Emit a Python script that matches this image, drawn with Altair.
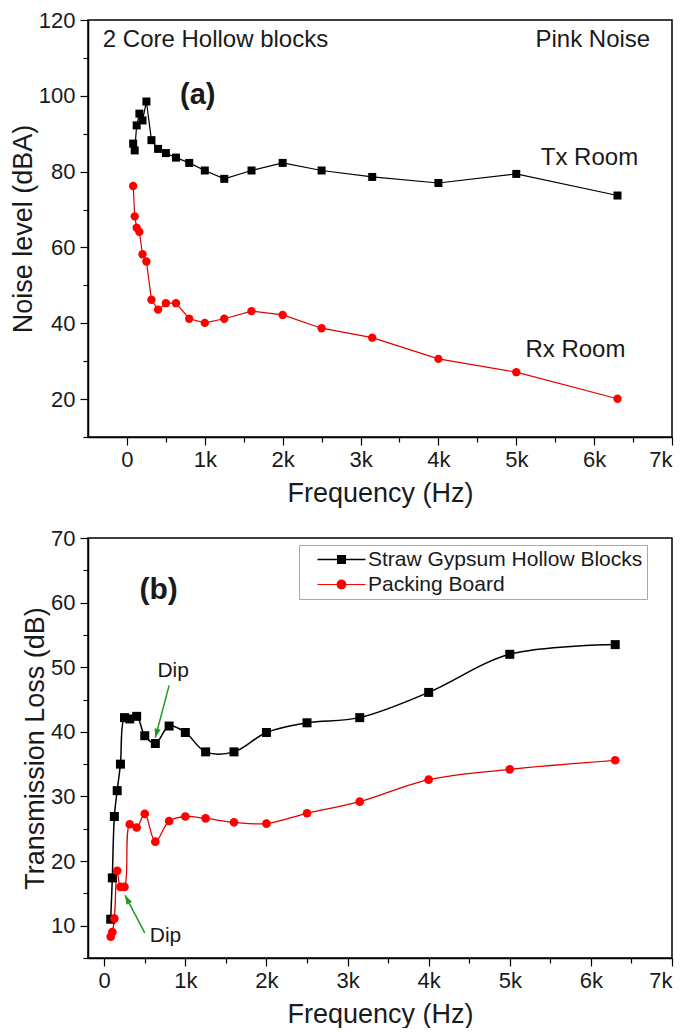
import math
import altair as alt
import pandas as pd

# ---------------- data ----------------
freq = [80, 100, 125, 160, 200, 250, 315, 400, 500, 630, 800, 1000,
        1250, 1600, 2000, 2500, 3150, 4000, 5000, 6300]
tx_room = [87.4, 85.6, 92.2, 95.3, 93.5, 98.5, 88.3, 86.0, 84.9, 83.7, 82.3, 80.3,
           78.1, 80.3, 82.3, 80.3, 78.6, 77.0, 79.4, 73.7]
rx_room = [76.2, 68.2, 65.2, 64.1, 58.2, 56.3, 46.2, 43.6, 45.3, 45.3, 41.2, 40.1,
           41.2, 43.2, 42.2, 38.7, 36.2, 30.6, 27.1, 20.1]
tl_straw = [11.0, 17.4, 26.9, 30.9, 35.0, 42.2, 42.0, 42.4, 39.4, 38.2, 40.9, 39.9,
            36.9, 36.9, 39.9, 41.4, 42.2, 46.1, 52.0, 53.5]
tl_packing = [8.3, 9.0, 11.1, 18.5, 16.0, 16.0, 25.7, 25.2, 27.3, 23.0, 26.2, 26.9,
              26.6, 26.0, 25.8, 27.4, 29.2, 32.6, 34.2, 35.6]

rooms = ["Tx Room", "Rx Room"]
materials = ["Straw Gypsum Hollow Blocks", "Packing Board"]

x_major = [0, 1000, 2000, 3000, 4000, 5000, 6000, 7000]
x_minor = [500, 1500, 2500, 3500, 4500, 5500, 6500]
ya_major = [20, 40, 60, 80, 100, 120]
ya_minor = [10, 30, 50, 70, 90, 110]
yb_major = [10, 20, 30, 40, 50, 60, 70]
yb_minor = [5, 15, 25, 35, 45, 55, 65]

# annotation texts (panel a)
a_left_text = ["2 Core Hollow blocks"]
a_left_x = [-310]
a_left_y = [114.8]
a_right_text = ["Pink Noise"]
a_right_x = [6720]
a_right_y = [114.8]
a_center_text = ["Tx Room", "Rx Room"]
a_center_x = [5940, 5760]
a_center_y = [83.7, 32.9]
a_bold_text = ["(a)"]
a_bold_x = [910]
a_bold_y = [100.2]

# annotation texts (panel b)
b_bold_text = ["(b)"]
b_bold_x = [670]
b_bold_y = [61.9]
b_dip_text = ["Dip", "Dip"]
b_dip_x = [850, 755]
b_dip_y = [49.4, 8.4]
arrow_x0 = [800, 500]
arrow_y0 = [47.2, 8.9]
arrow_x1 = [630, 257]
arrow_y1 = [39.1, 14.7]

# ---------------- layout / style ----------------
FONT = "Liberation Sans"
W_A, H_A = 584, 417
W_B, H_B = 584, 420
XA = [-500, 7000]
YA = [10, 120]
XB = [-200, 7000]
YB = [5, 70]
RED_PT = "#ff0000"
RED_LN = "#e00000"
GREEN = "#1f9a1f"

K_LABEL = "datum.value == 0 ? '0' : format(datum.value / 1000, 'd') + 'k'"

xa_scale = alt.Scale(domain=XA, nice=False, zero=False)
ya_scale = alt.Scale(domain=YA, nice=False, zero=False)
xb_scale = alt.Scale(domain=XB, nice=False, zero=False)
yb_scale = alt.Scale(domain=YB, nice=False, zero=False)


def major_x_axis():
    return alt.Axis(values=x_major, labelExpr=K_LABEL, title="Frequency (Hz)",
                    orient="bottom", tickSize=8, labelPadding=4, titlePadding=10)


def major_y_axis(vals, title):
    return alt.Axis(values=vals, title=title, orient="left", tickSize=8,
                    labelPadding=5, titlePadding=1)


def minor_x_axis():
    return alt.Axis(values=x_minor, labels=False, title=None, orient="bottom",
                    tickSize=5, domain=False)


def minor_y_axis(vals):
    return alt.Axis(values=vals, labels=False, title=None, orient="left",
                    tickSize=5, domain=False)


# ---------------- panel (a) ----------------
dfa = pd.DataFrame({
    "freq": freq + freq,
    "level": tx_room + rx_room,
    "room": [rooms[0]] * len(freq) + [rooms[1]] * len(freq),
})
ax_a = major_x_axis()
ay_a = major_y_axis(ya_major, "Noise level (dBA)")


def enc_a(ch, xf="freq:Q", yf="level:Q"):
    return ch.encode(x=alt.X(xf, scale=xa_scale, axis=ax_a),
                     y=alt.Y(yf, scale=ya_scale, axis=ay_a))


tx = alt.Chart(dfa).transform_filter(alt.datum.room == rooms[0])
rx = alt.Chart(dfa).transform_filter(alt.datum.room == rooms[1])
a_layers = [
    enc_a(tx.mark_line(color="black", strokeWidth=1.2)),
    enc_a(rx.mark_line(color=RED_LN, strokeWidth=1.2)),
    enc_a(tx.mark_square(color="black", size=64, opacity=1)),
    enc_a(rx.mark_circle(color=RED_PT, size=70, opacity=1)),
]


def text_layer(enc, xs, ys, texts, **kw):
    df = pd.DataFrame({"x": xs, "y": ys, "label": texts})
    return enc(alt.Chart(df).mark_text(font=FONT, color="#1a1a1a", baseline="middle", **kw)
               .encode(text="label:N"), "x:Q", "y:Q")


a_layers += [
    text_layer(enc_a, a_left_x, a_left_y, a_left_text, align="left", fontSize=24),
    text_layer(enc_a, a_right_x, a_right_y, a_right_text, align="right", fontSize=24),
    text_layer(enc_a, a_center_x, a_center_y, a_center_text, align="center", fontSize=24),
    text_layer(enc_a, a_bold_x, a_bold_y, a_bold_text, align="center", fontSize=29,
               fontWeight="bold"),
]
inner_a = alt.layer(*a_layers)
minor_a = alt.Chart(dfa).mark_point(opacity=0).encode(
    x=alt.X("freq:Q", scale=xa_scale, axis=minor_x_axis()),
    y=alt.Y("level:Q", scale=ya_scale, axis=minor_y_axis(ya_minor)))
chart_a = alt.layer(inner_a, minor_a).resolve_axis(
    x="independent", y="independent").properties(width=W_A, height=H_A)

# ---------------- panel (b) ----------------
dfb = pd.DataFrame({
    "freq": freq + freq,
    "tl": tl_straw + tl_packing,
    "series": [materials[0]] * len(freq) + [materials[1]] * len(freq),
})
ax_b = major_x_axis()
ay_b = major_y_axis(yb_major, "Transmission Loss (dB)")


def enc_b(ch, xf="freq:Q", yf="tl:Q"):
    return ch.encode(x=alt.X(xf, scale=xb_scale, axis=ax_b),
                     y=alt.Y(yf, scale=yb_scale, axis=ay_b))


sb = alt.Chart(dfb).transform_filter(alt.datum.series == materials[0])
pb = alt.Chart(dfb).transform_filter(alt.datum.series == materials[1])
b_layers = [
    enc_b(sb.mark_line(color="black", strokeWidth=1.5, interpolate="catmull-rom")),
    enc_b(pb.mark_line(color=RED_LN, strokeWidth=1.3, interpolate="catmull-rom")),
    enc_b(sb.mark_square(color="black", size=81, opacity=1)),
    enc_b(pb.mark_circle(color=RED_PT, size=75, opacity=1)),
]


# arrows (shaft + arrowhead) -- angle from the scale geometry
def px_b(f, v):
    return ((f - XB[0]) / (XB[1] - XB[0]) * W_B,
            (YB[1] - v) / (YB[1] - YB[0]) * H_B)


angles = []
for f0, v0, f1, v1 in zip(arrow_x0, arrow_y0, arrow_x1, arrow_y1):
    p0 = px_b(f0, v0)
    p1 = px_b(f1, v1)
    angles.append(math.degrees(math.atan2(p1[0] - p0[0], -(p1[1] - p0[1]))) % 360)

df_arrow = pd.DataFrame({"x0": arrow_x0, "y0": arrow_y0, "x1": arrow_x1,
                         "y1": arrow_y1, "ang": angles})
ARROW_HEAD = "M0,0L-0.6,1.7L0.6,1.7Z"
b_layers += [
    alt.Chart(df_arrow).mark_rule(color=GREEN, strokeWidth=1.5).encode(
        x=alt.X("x0:Q", scale=xb_scale, axis=ax_b),
        y=alt.Y("y0:Q", scale=yb_scale, axis=ay_b),
        x2="x1:Q", y2="y1:Q"),
    alt.Chart(df_arrow).mark_point(shape=ARROW_HEAD, filled=True, color=GREEN,
                                   size=110, opacity=1).encode(
        x=alt.X("x1:Q", scale=xb_scale, axis=ax_b),
        y=alt.Y("y1:Q", scale=yb_scale, axis=ay_b),
        angle=alt.Angle("ang:Q", scale=None)),
    text_layer(enc_b, b_bold_x, b_bold_y, b_bold_text, align="center", fontSize=30,
               fontWeight="bold"),
    text_layer(enc_b, b_dip_x, b_dip_y, b_dip_text, align="center", fontSize=21),
]

# legend: symbols = line + marker; placed inside panel (b), near its top-right
SQ_PATH = "M-4.8,-0.15H4.8V0.15H-4.8Z M-0.9,-0.9H0.9V0.9H-0.9Z"
CI_PATH = ("M-4.8,-0.12H4.8V0.12H-4.8Z "
           "M-0.98,0A0.98,0.98,0,1,1,0.98,0A0.98,0.98,0,1,1,-0.98,0Z")
leg = alt.Legend(title=None, orient="none", legendX=211, legendY=525, padding=4,
                 strokeColor="#a8a8a8", fillColor="white",
                 labelFont=FONT, labelFontSize=21, labelColor="#1a1a1a", labelLimit=500,
                 symbolSize=100, symbolOffset=28, labelOffset=16, rowPadding=3,
                 symbolStrokeWidth=0)
legend_layer = enc_b(
    alt.Chart(dfb).transform_filter("false").mark_point(filled=True, opacity=1)
).encode(
    color=alt.Color("series:N", scale=alt.Scale(domain=materials, range=["black", RED_PT]),
                    legend=leg),
    shape=alt.Shape("series:N", scale=alt.Scale(domain=materials, range=[SQ_PATH, CI_PATH]),
                    legend=leg),
)
b_layers.append(legend_layer)

inner_b = alt.layer(*b_layers)
minor_b = alt.Chart(dfb).mark_point(opacity=0).encode(
    x=alt.X("freq:Q", scale=xb_scale, axis=minor_x_axis()),
    y=alt.Y("tl:Q", scale=yb_scale, axis=minor_y_axis(yb_minor)))
chart_b = alt.layer(inner_b, minor_b).resolve_axis(
    x="independent", y="independent").properties(width=W_B, height=H_B)

chart = alt.vconcat(chart_a, chart_b, spacing=19).properties(
    padding={"left": 0, "top": 0, "right": 0, "bottom": 0}
).configure_view(
    stroke="black", strokeWidth=1.5
).configure_axis(
    labelFont=FONT, titleFont=FONT, labelFontSize=22, titleFontSize=27,
    titleFontWeight="normal", labelColor="#1a1a1a", titleColor="#1a1a1a",
    tickColor="black", domainColor="black", tickWidth=1.2, domainWidth=1.5, grid=False
)

chart.save("out.html", embed_options={"renderer": "svg", "actions": False})
